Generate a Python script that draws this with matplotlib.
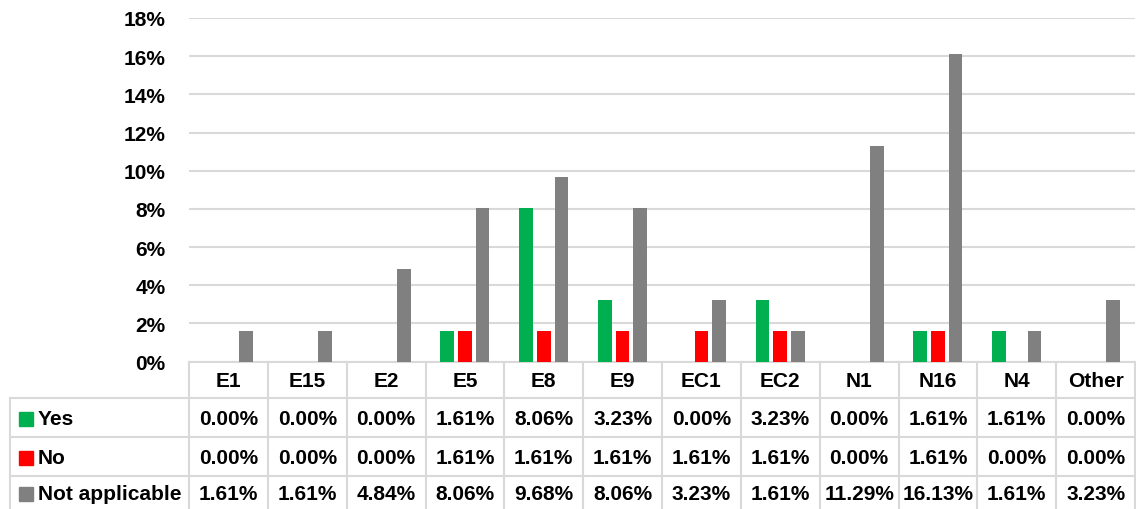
import numpy as np
import matplotlib
matplotlib.use("Agg")
import matplotlib.pyplot as plt
from matplotlib.ticker import PercentFormatter

categories = ["E1", "E15", "E2", "E5", "E8", "E9", "EC1", "EC2", "N1", "N16", "N4", "Other"]
yes = [0.00, 0.00, 0.00, 1.61, 8.06, 3.23, 0.00, 3.23, 0.00, 1.61, 1.61, 0.00]
no = [0.00, 0.00, 0.00, 1.61, 1.61, 1.61, 1.61, 1.61, 0.00, 1.61, 0.00, 0.00]
not_applicable = [1.61, 1.61, 4.84, 8.06, 9.68, 8.06, 3.23, 1.61, 11.29, 16.13, 1.61, 3.23]
series_names = ["Yes", "No", "Not applicable"]
colors = ["#00B050", "#FF0000", "#808080"]

plt.rcParams['font.family'] = ['Liberation Sans', 'DejaVu Sans']
plt.rcParams['font.weight'] = 'bold'
FS = 15

W, H = 1136, 510
fig = plt.figure(figsize=(W / 100, H / 100), dpi=100)

# pixel layout of the plot area
x0, x1 = 189, 1135
y_top, y_bot = 19, 362.5
ax = fig.add_axes([x0 / W, 1 - y_bot / H, (x1 - x0) / W, (y_bot - y_top) / H])

n = len(categories)
x = np.arange(n) + 0.5
bw = 0.174
off = 0.224
all_series = [yes, no, not_applicable]
for k, vals in enumerate(all_series):
    ax.bar(x + (k - 1) * off, np.array(vals) / 100, width=bw, color=colors[k], zorder=3)

ax.set_xlim(0, n)
ax.set_ylim(0, 0.18)
ax.set_yticks(np.arange(0, 0.181, 0.02))
ax.yaxis.set_major_formatter(PercentFormatter(1.0, decimals=0))
ax.grid(axis='y', color='#d9d9d9', linewidth=1.5, zorder=0)
for s in ['top', 'right', 'left']:
    ax.spines[s].set_visible(False)
ax.spines['bottom'].set_color('#d9d9d9')
ax.spines['bottom'].set_linewidth(1.5)
ax.set_xticks([])
ax.tick_params(axis='y', length=0, pad=17, labelsize=FS)

# data table underneath
tx0 = 10
unit = (x1 - x0) / n
tab = fig.add_axes([tx0 / W, 0, (x1 - tx0) / W, 1 - y_bot / H])
tab.set_xlim(-(x0 - tx0) / unit, n)
tab.set_ylim(H, y_bot)
tab.axis('off')
rows = [y_bot, 399.5, 438.5, 477.5, 512]
lc = '#d9d9d9'
for i in range(n + 1):
    tab.plot([i, i], [y_bot, H], color=lc, lw=1.5, clip_on=False)
left = -(x0 - tx0) / unit
tab.plot([left, left], [rows[1], H], color=lc, lw=1.5, clip_on=False)
for r in rows[1:4]:
    tab.plot([left, n], [r, r], color=lc, lw=1.5, clip_on=False)

for i, c in enumerate(categories):
    tab.text(i + 0.5, (rows[0] + rows[1]) / 2 + 1, c, ha='center', va='center', fontsize=FS, fontweight='bold')

for k, vals in enumerate(all_series):
    yc = (rows[k + 1] + rows[k + 2]) / 2 + 1
    if k == 2:
        yc = 495
    tab.add_patch(plt.Rectangle((left + 9 / unit, yc - 7), 14 / unit, 14, color=colors[k], clip_on=False))
    tab.text(left + 28 / unit, yc, series_names[k], ha='left', va='center', fontsize=FS, fontweight='bold')
    for i, v in enumerate(vals):
        tab.text(i + 0.5, yc, f"{v:.2f}%", ha='center', va='center', fontsize=FS, fontweight='bold')

fig.savefig("out.png", dpi=100)
